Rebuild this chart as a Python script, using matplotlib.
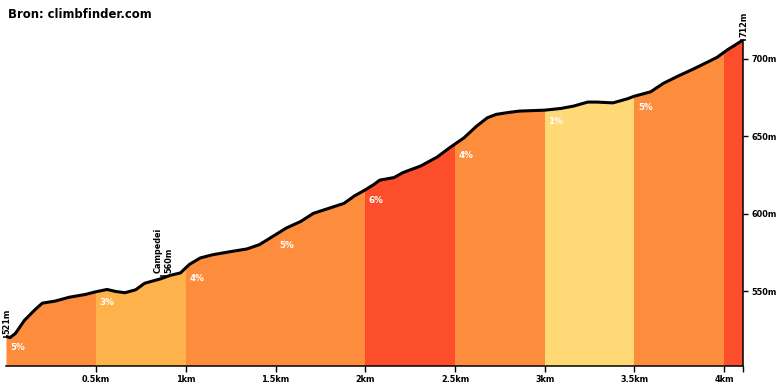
import numpy as np
import matplotlib
matplotlib.use("Agg")
from matplotlib import pyplot

# profile (distance in km, elevation in m)
dist_km = [0.0, 0.02, 0.05, 0.10, 0.16, 0.20, 0.27, 0.35, 0.44, 0.49, 0.56, 0.61,
           0.66, 0.72, 0.77, 0.86, 0.91, 0.97, 1.02, 1.08, 1.15, 1.25, 1.34, 1.41,
           1.49, 1.56, 1.64, 1.71, 1.80, 1.88, 1.94, 2.00, 2.05, 2.08, 2.16, 2.21,
           2.31, 2.40, 2.47, 2.55, 2.62, 2.68, 2.73, 2.81, 2.86, 3.00, 3.09, 3.16,
           3.24, 3.29, 3.38, 3.46, 3.50, 3.59, 3.66, 3.74, 3.81, 3.88, 3.96, 4.02,
           4.07, 4.105]
elev_m = [521.0, 520.3, 523.0, 531.4, 538.4, 542.5, 543.8, 546.3, 548.1, 549.6, 551.3, 550.0,
          549.2, 551.1, 555.3, 558.2, 560.3, 562.0, 567.5, 571.6, 573.7, 575.7, 577.4, 580.2,
          585.9, 590.9, 595.1, 600.3, 603.7, 606.7, 611.6, 615.5, 619.1, 621.7, 623.4, 626.6,
          630.9, 636.6, 642.6, 649.0, 656.5, 661.9, 664.1, 665.5, 666.2, 666.8, 667.9, 669.4,
          672.0, 672.0, 671.5, 674.1, 675.8, 678.6, 684.0, 688.6, 692.3, 696.2, 700.8, 705.8,
          709.4, 712.0]

# half-km segments and their gradient
seg_start = [0.0, 0.5, 1.0, 1.5, 2.0, 2.5, 3.0, 3.5, 4.0]
seg_grade = [5, 3, 4, 5, 6, 4, 1, 5, 10]
seg_label = ["5%", "3%", "4%", "5%", "6%", "4%", "1%", "5%", ""]

# named points on the profile
marker_km = [0.0, 0.87, 4.105]
marker_m = [521, 560, 712]
marker_text = ["521m", "Campedei\n560m", "712m"]

xtick_km = [0.5, 1.0, 1.5, 2.0, 2.5, 3.0, 3.5, 4.0]
xtick_text = ["0.5km", "1km", "1.5km", "2km", "2.5km", "3km", "3.5km", "4km"]
ytick_m = [550, 600, 650, 700]
ytick_text = ["550m", "600m", "650m", "700m"]

base_m = 502


def grade_color(g):
    if g <= 2:
        return "#FED976"
    if g <= 3:
        return "#FEB24C"
    if g <= 5:
        return "#FD8D3C"
    return "#FC4E2A"


fig = pyplot.figure(figsize=(7.8, 3.9), dpi=100)
ax = fig.add_axes([0.0083, 0.0615, 0.9443, 0.836])
ax.set_xlim(0, dist_km[-1])
ax.set_ylim(base_m, max(elev_m))

# area under the profile, used as clip for the coloured segments
area = ax.fill_between(dist_km, elev_m, base_m, color="none", linewidth=0)
clip = area.get_paths()[0]

seg_end = seg_start[1:] + [dist_km[-1]]
for s, e, g, lab in zip(seg_start, seg_end, seg_grade, seg_label):
    span = ax.axvspan(s, e, color=grade_color(g), linewidth=0, zorder=1)
    span.set_clip_path(clip, transform=ax.transData)
    if lab:
        ax.annotate(lab, xy=(s, np.interp(s, dist_km, elev_m)), xytext=(2.6, -8),
                    textcoords="offset points", ha="left", va="center",
                    color="white", fontsize=6.3, fontweight="bold", zorder=4)

ax.plot(dist_km, elev_m, color="black", linewidth=2.2, solid_capstyle="round",
        solid_joinstyle="round", zorder=3)

# point labels
for km, m, txt in zip(marker_km, marker_m, marker_text):
    ax.plot([km], [m], marker="_", markersize=4.5, markeredgewidth=1.1,
            color="black", clip_on=False, zorder=5)
    ax.annotate(txt, xy=(km, m), xytext=(0.5, 2), textcoords="offset points",
                rotation=90, ha="center", va="bottom", multialignment="left",
                fontsize=5.9, fontweight="bold", annotation_clip=False)

for side in ("left", "top"):
    ax.spines[side].set_visible(False)
for side in ("bottom", "right"):
    ax.spines[side].set_linewidth(1.1)

ax.set_xticks(xtick_km + [dist_km[-1]])
ax.set_xticklabels(xtick_text + [""])
ax.yaxis.tick_right()
ax.set_yticks(ytick_m)
ax.set_yticklabels(ytick_text)
ax.tick_params(axis="x", length=4.3, width=1.0, pad=2.5, labelsize=5.9)
ax.tick_params(axis="y", length=3.8, width=1.0, pad=2, labelsize=5.9)
for lbl in ax.get_xticklabels() + ax.get_yticklabels():
    lbl.set_fontweight("bold")

fig.text(8 / 780, 1 - 15 / 390, "Bron: climbfinder.com", ha="left", va="center",
         fontsize=8.4, fontweight="bold")

fig.savefig("out.png", dpi=100)
